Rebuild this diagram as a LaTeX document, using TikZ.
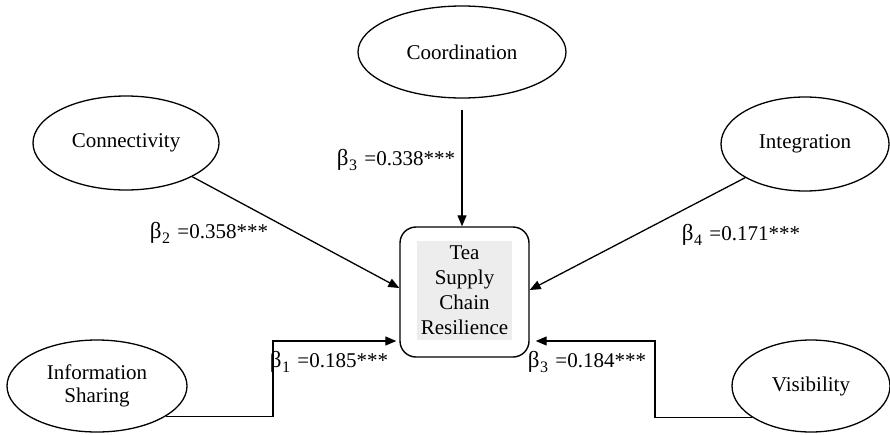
\documentclass[tikz,border=0pt]{standalone}
\usepackage{fontspec}
\setmainfont{Liberation Serif}
\usetikzlibrary{shapes.geometric,arrows.meta}
\newcommand{\bsub}[1]{{\fontsize{23}{23}\selectfont β}\kern0.5pt\raisebox{-0.22em}{\fontsize{16}{16}\selectfont #1}\hspace{0.35em}}
\begin{document}
\begin{tikzpicture}[x=1pt,y=-1pt,
  every node/.style={font=\fontsize{21}{25}\selectfont},
  construct/.style={ellipse,draw,line width=1.3pt,inner sep=0pt,align=center},
  outcome/.style={draw,line width=1.4pt,rounded corners=16pt,minimum width=129pt,minimum height=130pt,inner sep=0pt},
  graybox/.style={fill=black!7,minimum width=95pt,minimum height=99pt,inner sep=0pt,align=center},
  path/.style={line width=1.3pt,-{Triangle[length=11pt,width=9pt]}},
  coef/.style={inner sep=0pt}]
\useasboundingbox (0,0) rectangle (890,434);
% nodes
\node[construct,minimum width=208pt,minimum height=92pt] (coord) at (462,52) {Coordination};
\node[construct,minimum width=186pt,minimum height=94pt] (conn) at (126,143) {Connectivity};
\node[construct,minimum width=168pt,minimum height=94pt] (integ) at (805,144) {Integration};
\node[construct,minimum width=180pt,minimum height=92pt] (info) at (97,386) {Information\\[-2pt]Sharing};
\node[construct,minimum width=158pt,minimum height=92pt] (vis) at (811,386) {Visibility};
\node[outcome] (box) at (464.5,292) {};
\node[graybox] (boxtxt) at (464.5,290.5) {Tea\\Supply\\Chain\\Resilience};
% elbow coordinates
\coordinate (e1) at (273,341);
\coordinate (e2) at (655,341);
% connectors
\draw[path] ([yshift=-11pt]coord.south) -- (coord.south |- box.north);
\draw[path] (conn.south east) -- ([yshift=4pt]box.west);
\draw[path] (integ.south west) -- ([yshift=2pt]box.east);
\draw[path] (info.-24) -| (e1) -- ([xshift=-3pt]box.west |- e1);
\draw[path] (vis.-152) -| (e2) -- ([xshift=6pt]box.east |- e2);
% coefficients
\node[coef] (c2) at (209,233) {\bsub{2}=0.358***};
\node[coef] (c3) at (396,160) {\bsub{3}=0.338***};
\node[coef] (c4) at (741,235) {\bsub{4}=0.171***};
\node[coef] (c1) at (329,362) {\bsub{1}=0.185***};
\node[coef] (c5) at (587,362) {\bsub{3}=0.184***};
\end{tikzpicture}
\end{document}
